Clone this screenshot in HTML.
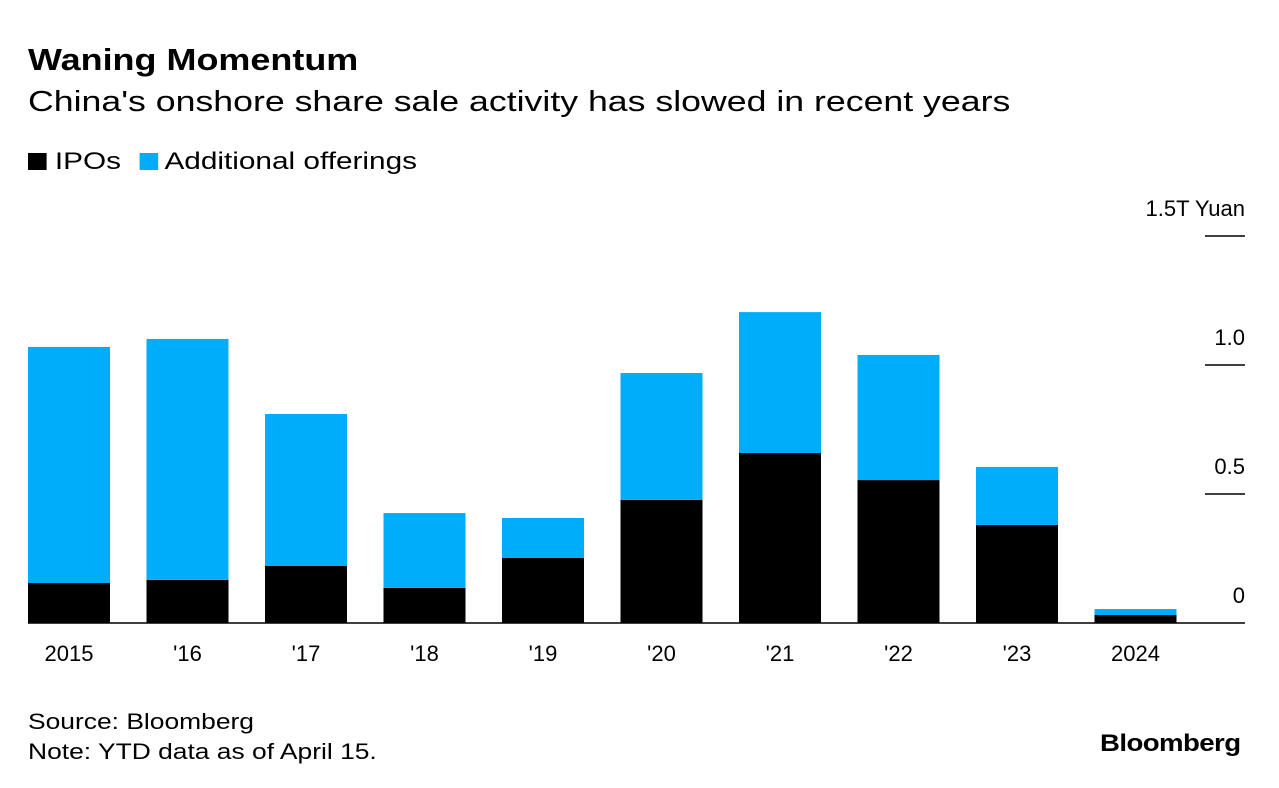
<!DOCTYPE html>
<html><head><meta charset="utf-8"><style>
body{margin:0;background:#fff;font-family:"Liberation Sans",Arial,sans-serif;color:#000}
#wrap{position:relative;width:1279px;height:788px;overflow:hidden}
.t{position:absolute;white-space:nowrap;transform-origin:left top}
</style></head><body><div id="wrap">
<div class="t" style="left:28px;top:42px;font-size:31px;font-weight:bold;transform:scaleX(1.16)">Waning Momentum</div>
<div class="t" style="left:28px;top:86px;font-size:29px;transform:scaleX(1.23)">China's onshore share sale activity has slowed in recent years</div>
<div class="t" style="left:28px;top:148px;font-size:24px;transform:scaleX(1.24)">
<span><span style="display:inline-block;width:15px;height:17px;background:#000;vertical-align:-1px"></span> IPOs</span>
<span style="margin-left:8px"><span style="display:inline-block;width:15px;height:17px;background:#00adf9;vertical-align:-1px"></span> Additional offerings</span>
</div>
<svg id="svg" width="1279" height="788" style="position:absolute;left:0;top:0"></svg>
<div class="t" style="left:28px;top:707px;font-size:22px;line-height:30px;transform:scaleX(1.2)">Source: Bloomberg<br>Note: YTD data as of April 15.</div>
<div class="t" style="left:1100px;top:730px;font-size:24px;font-weight:bold;letter-spacing:-0.5px;transform:scaleX(1.15)">Bloomberg</div>
</div>
<script>
const categories=["2015","'16","'17","'18","'19","'20","'21","'22","'23","2024"];
const ipos=[0.155,0.167,0.221,0.136,0.252,0.477,0.659,0.554,0.380,0.031];
const additional=[0.915,0.934,0.589,0.290,0.155,0.492,0.546,0.485,0.225,0.023];
const ticks=[0,0.5,1.0,1.5];
const tickLabels=["0","0.5","1.0","1.5T Yuan"];
const NS="http://www.w3.org/2000/svg",svg=document.getElementById('svg');
const y=v=>623-v*258, x=i=>28+i*118.5, bw=82;
function mk(t,a){const e=document.createElementNS(NS,t);for(const k in a)e.setAttribute(k,a[k]);svg.appendChild(e);return e;}
ticks.forEach((v,i)=>{
 if(v>0){const l=mk('line',{x1:1205,x2:1245,y1:y(v),y2:y(v),stroke:'#000','stroke-width':1.5});
 
 }
 const t=mk('text',{x:1245,y:y(v)-20,'text-anchor':'end','font-size':22,'font-family':'Liberation Sans, sans-serif'});
 t.textContent=tickLabels[i];
 
 
});
categories.forEach((c,i)=>{
 const b1=mk('rect',{x:x(i),y:y(ipos[i]),width:bw,height:ipos[i]*258,fill:'#000'});
 
 
 const b2=mk('rect',{x:x(i),y:y(ipos[i]+additional[i]),width:bw,height:additional[i]*258,fill:'#00adf9'});
 
 
 const t=mk('text',{x:x(i)+bw/2,y:661,'text-anchor':'middle','font-size':22,'font-family':'Liberation Sans, sans-serif'});
 t.textContent=c;
 
 
});
const base=mk('line',{x1:28,x2:1245,y1:623,y2:623,stroke:'#000','stroke-width':1.5});


</script></body></html>
